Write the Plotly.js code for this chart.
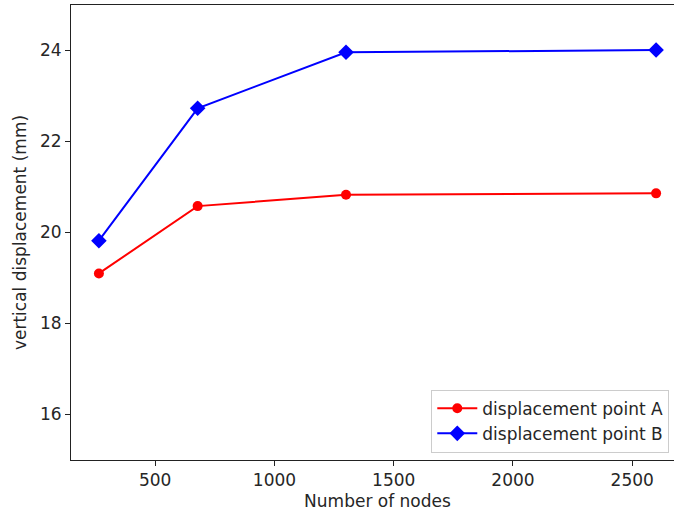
<!DOCTYPE html>
<html>
<head>
<meta charset="utf-8">
<script src="https://cdn.plot.ly/plotly-3.0.1.min.js"></script>
<style>
html, body { margin: 0; padding: 0; overflow: hidden; background: #fff; width: 674px; height: 517px; }
#chart { width: 690px; height: 517px; }
</style>
</head>
<body>
<div id="chart"></div>
<script>
const nodes = [264, 678, 1300, 2600];
const pointA = [19.10, 20.58, 20.83, 20.86];
const pointB = [19.82, 22.73, 23.96, 24.01];
const seriesNames = ["displacement point A", "displacement point B"];
const xTitle = "Number of nodes";
const yTitle = "vertical displacement (mm)";
const xTicks = [500, 1000, 1500, 2000, 2500];
const yTicks = [16, 18, 20, 22, 24];

const font = { family: "DejaVu Sans, sans-serif", size: 17, color: "#262626" };

const traces = [
  {
    x: nodes, y: pointA, name: seriesNames[0], type: "scatter", mode: "lines+markers",
    line: { color: "#ff0000", width: 2 },
    marker: { color: "#ff0000", symbol: "circle", size: 10 }
  },
  {
    x: nodes, y: pointB, name: seriesNames[1], type: "scatter", mode: "lines+markers",
    line: { color: "#0000ff", width: 2 },
    marker: { color: "#0000ff", symbol: "diamond", size: 12 }
  }
];

const layout = {
  width: 690, height: 517,
  margin: { l: 71, r: 6, t: 5, b: 57, pad: 0 },
  paper_bgcolor: "#ffffff", plot_bgcolor: "#ffffff",
  font: font,
  showlegend: true,
  xaxis: {
    range: [147, 2717],
    tickvals: xTicks, ticktext: xTicks.map(String),
    ticks: "outside", ticklen: 5, tickwidth: 1, tickcolor: "#222",
    showline: true, linecolor: "#222", linewidth: 1, mirror: true,
    showgrid: false, zeroline: false,
    title: { text: xTitle, font: font, standoff: 5 },
    automargin: false
  },
  yaxis: {
    range: [15, 25],
    tickvals: yTicks, ticktext: yTicks.map(String),
    ticks: "outside", ticklen: 5, tickwidth: 1, tickcolor: "#222",
    showline: true, linecolor: "#222", linewidth: 1, mirror: true,
    showgrid: false, zeroline: false,
    title: { text: yTitle, font: font, standoff: 9 },
    automargin: false
  },
  legend: {
    x: 0.976, y: 0.016, xanchor: "right", yanchor: "bottom",
    bgcolor: "rgba(255,255,255,0.8)", bordercolor: "#cccccc", borderwidth: 1,
    font: font, tracegroupgap: 0, itemwidth: 40
  }
};

Plotly.newPlot("chart", traces, layout, { displayModeBar: false, staticPlot: true });
</script>
</body>
</html>
